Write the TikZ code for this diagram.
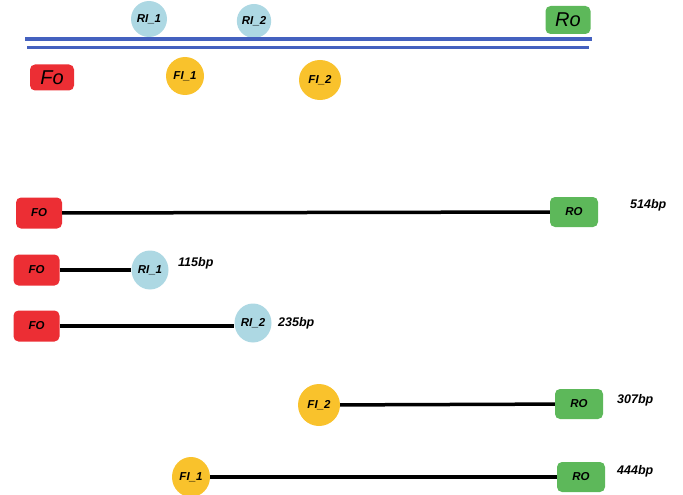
\documentclass[tikz,border=0pt]{standalone}
\usepackage{fontspec}
\setmainfont{Liberation Sans}
\usetikzlibrary{shapes.geometric}
\definecolor{fred}{HTML}{EC2E34}
\definecolor{rgreen}{HTML}{5DB85A}
\definecolor{iblue}{HTML}{ADD8E3}
\definecolor{iyellow}{HTML}{F9C22C}
\definecolor{lblue}{HTML}{4461BF}
\tikzset{
  lab/.style={font=\bfseries\itshape\fontsize{11.5}{12}\selectfont},
  fbox/.style={lab, fill=fred, rounded corners=5pt, minimum width=46pt, minimum height=31pt, inner sep=0pt},
  rbox/.style={lab, fill=rgreen, rounded corners=5pt, minimum width=48pt, minimum height=30pt, inner sep=0pt},
  rin/.style={lab, ellipse, fill=iblue, minimum width=37pt, minimum height=39pt, inner sep=0pt},
  fin/.style={lab, ellipse, fill=iyellow, minimum width=38pt, minimum height=40pt, inner sep=0pt},
  link/.style={line width=3.5pt, black},
  bp/.style={anchor=west, inner sep=0pt, font=\bfseries\itshape\fontsize{12.5}{13}\selectfont},
  big/.style={font=\itshape\fontsize{20}{21}\selectfont},
  strand/.style={lblue, line width=3.5pt}
}
\begin{document}
\begin{tikzpicture}[x=1pt,y=-1pt]
\useasboundingbox (0,0) rectangle (683,495);
% top schematic
\node[rin, minimum width=36pt, minimum height=36pt] (tri1) at (149,19) {RI\_1};
\node[rin, minimum width=34pt, minimum height=34pt] (tri2) at (254,21) {RI\_2};
\node[rbox, big, minimum width=45pt, minimum height=28pt] (tro) at (568,20) {Ro};
\coordinate (s1a) at (25,39);
\coordinate (s1b) at (592,39);
\coordinate (s2a) at (27,47.5);
\coordinate (s2b) at (589,47.5);
\draw[strand] (s1a) -- (s1b);
\draw[strand] (s2a) -- (s2b);
\node[fbox, big, minimum width=44pt, minimum height=26pt] (tfo) at (52,77.5) {Fo};
\node[fin, minimum width=38pt, minimum height=38pt] (tfi1) at (185,76) {FI\_1};
\node[fin, minimum width=42pt, minimum height=40pt] (tfi2) at (320,80) {FI\_2};
% row 1
\node[fbox] (fo1) at (39,213) {FO};
\node[rbox] (ro1) at (574,212) {RO};
\draw[link] (fo1) -- (ro1);
\node[bp] (b1) at (630,205) {514bp};
% row 2
\node[fbox] (fo2) at (36.5,270) {FO};
\node[rin] (ri1) at (150,270) {RI\_1};
\draw[link] (fo2) -- (fo2 -| ri1.west);
\node[bp] (b2) at (178,263) {115bp};
% row 3
\node[fbox] (fo3) at (36.5,326) {FO};
\node[rin] (ri2) at (253,323) {RI\_2};
\draw[link] (fo3) -- (fo3 -| ri2.west);
\node[bp] (b3) at (278,323) {235bp};
% row 4
\node[fin, minimum width=42pt, minimum height=42pt] (fi2) at (319,405) {FI\_2};
\node[rbox] (ro4) at (579,404) {RO};
\draw[link] (fi2) -- (ro4);
\node[bp] (b4) at (617,400) {307bp};
% row 5
\node[fin] (fi1) at (191,477) {FI\_1};
\node[rbox] (ro5) at (581,477) {RO};
\draw[link] (fi1) -- (ro5);
\node[bp] (b5) at (617,471) {444bp};
\end{tikzpicture}
\end{document}
